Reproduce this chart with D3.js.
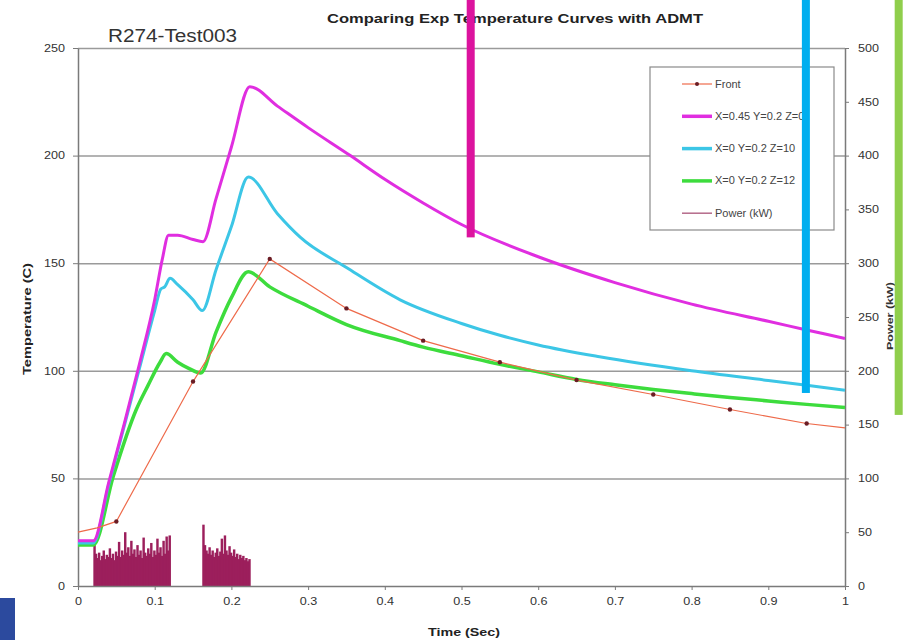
<!DOCTYPE html>
<html>
<head>
<meta charset="utf-8">
<script src="https://cdn.jsdelivr.net/npm/d3@7"></script>
<style>
  body { margin: 0; background: #fff; }
  text { font-family: "Liberation Sans", Arial, sans-serif; }
</style>
</head>
<body>
<div id="chart"></div>
<script>
// ---- data ----
const timeTicks = [0, 0.1, 0.2, 0.3, 0.4, 0.5, 0.6, 0.7, 0.8, 0.9, 1];
const timeLabels = ['0', '0.1', '0.2', '0.3', '0.4', '0.5', '0.6', '0.7', '0.8', '0.9', '1'];
const tempTicks = [0, 50, 100, 150, 200, 250];
const powerTicks = [0, 50, 100, 150, 200, 250, 300, 350, 400, 450, 500];

const frontT = [0, 0.025, 0.05, 0.15, 0.25, 0.35, 0.45, 0.55, 0.65, 0.75, 0.85, 0.95, 1.0];
const frontV = [25, 27, 30, 95, 152, 129, 114, 104, 95.7, 89, 82, 75.5, 73.5];

const magentaT = [0, 0.02, 0.04, 0.06, 0.08, 0.1, 0.11, 0.118, 0.13, 0.15, 0.163, 0.18, 0.2, 0.224, 0.26, 0.3, 0.355, 0.4, 0.45, 0.5, 0.6, 0.7, 0.8, 0.9, 0.95, 1.0];
const magentaV = [21, 21, 48, 75, 103, 133, 152, 163, 163, 161, 160, 180, 204, 232, 223, 213, 200, 189, 178, 168, 153, 141, 131, 123, 119, 115];

const cyanT = [0, 0.02, 0.04, 0.06, 0.08, 0.1, 0.108, 0.113, 0.12, 0.13, 0.15, 0.162, 0.18, 0.2, 0.222, 0.26, 0.29, 0.35, 0.42, 0.5, 0.55, 0.6, 0.68, 0.8, 0.9, 1.0];
const cyanV = [20, 20, 47, 74, 101, 128, 138, 139, 143, 140, 133, 128, 147, 167, 190, 173, 162, 148, 133, 122, 116.5, 112, 106.5, 100, 95.5, 91];

const greenT = [0, 0.02, 0.046, 0.076, 0.091, 0.107, 0.115, 0.13, 0.145, 0.16, 0.18, 0.2, 0.222, 0.25, 0.3, 0.35, 0.42, 0.45, 0.5, 0.55, 0.6, 0.65, 0.7, 0.75, 0.8, 0.85, 0.9, 0.95, 1.0];
const greenV = [19, 19, 51, 82, 93, 104, 108, 104, 101, 99, 118, 134, 146, 139, 130, 121.5, 114, 111, 107, 103, 99.5, 96, 93.5, 91.3, 89.4, 87.6, 86, 84.4, 83];

// power (kW), one value every 0.002 s
const powerStep = 0.002;
const power1Start = 0.022;
const power1 = [38, 30, 26, 31, 24, 28, 33, 25, 29, 27, 35, 26, 30, 24, 32, 28, 41, 27, 33, 29, 50, 31, 36, 28, 42,
                30, 34, 27, 38, 29, 33, 26, 45, 31, 28, 35, 30, 40, 27, 33, 29, 44, 31, 36, 28, 42, 30, 46, 33, 47];
const power2Start = 0.164;
const power2 = [57, 38, 33, 30, 36, 29, 33, 27, 31, 35, 28, 32, 44, 30, 47, 33, 29, 37, 31, 28, 34, 27, 30, 25, 29,
                26, 28, 24, 26, 23, 25];

const legendNames = ['Front', 'X=0.45 Y=0.2 Z=0', 'X=0 Y=0.2 Z=10', 'X=0 Y=0.2 Z=12', 'Power (kW)'];

// overlay marker bars drawn over the chart (time, lower end in temperature)
const overlayT = [0.512, 0.949, 1.07];
const overlayEnd = [162, 89.7, 79.5];

// ---- drawing ----
const W = 918, H = 640;
const m = { left: 78, right: 845, top: 48, bottom: 586 };

const svg = d3.select('#chart').append('svg').attr('width', W).attr('height', H);

const x = d3.scaleLinear().domain([0, 1]).range([m.left, m.right]);
const y = d3.scaleLinear().domain([0, 250]).range([m.bottom, m.top]);
const yPow = d3.scaleLinear().domain([0, 500]).range([m.bottom, m.top]);

// the reference text is drawn a little wide
const widen = k => sel => sel.each(function () {
  const len = this.getComputedTextLength();
  d3.select(this).attr('textLength', len * k).attr('lengthAdjust', 'spacingAndGlyphs');
});

// gridlines
svg.append('g')
  .attr('transform', `translate(${m.left},0)`)
  .call(d3.axisLeft(y).tickValues([50, 100, 150, 200, 250]).tickSize(-(m.right - m.left)).tickFormat(''))
  .call(g => g.select('.domain').remove())
  .call(g => g.selectAll('line').attr('stroke', '#9a9a9a').attr('stroke-width', 1.5));

// power bars
const bars = power1.map((v, i) => ({ t: power1Start + i * powerStep, v }))
  .concat(power2.map((v, i) => ({ t: power2Start + i * powerStep, v })));
svg.append('g').selectAll('rect').data(bars).join('rect')
  .attr('x', d => x(d.t - powerStep))
  .attr('width', x(powerStep) - x(0) + 0.9)
  .attr('y', d => yPow(d.v))
  .attr('height', d => yPow(0) - yPow(d.v))
  .attr('fill', '#9c1f5c');

// axes
const axisStyle = g => {
  g.select('.domain').attr('stroke', '#7a7a7a').attr('stroke-width', 1.5);
  g.selectAll('.tick line').attr('stroke', '#7a7a7a');
  g.selectAll('text').attr('fill', '#333').style('font-size', '10.5px')
    .style('font-family', '"Liberation Sans", Arial, sans-serif')
    .call(widen(1.2));
};

svg.append('g')
  .attr('transform', `translate(0,${m.bottom})`)
  .call(d3.axisBottom(x).tickValues(timeTicks).tickFormat((d, i) => timeLabels[i]).tickSize(4).tickSizeOuter(0).tickPadding(8))
  .call(axisStyle);

svg.append('g')
  .attr('transform', `translate(${m.left},0)`)
  .call(d3.axisLeft(y).tickValues(tempTicks).tickSize(5).tickSizeOuter(0).tickPadding(8))
  .call(axisStyle);

svg.append('g')
  .attr('transform', `translate(${m.right},0)`)
  .call(d3.axisRight(yPow).tickValues(powerTicks).tickSize(4).tickSizeOuter(0).tickPadding(9))
  .call(axisStyle);

// curves
const zip = (ts, vs) => ts.map((t, i) => ({ t, v: vs[i] }));
const smooth = d3.line().x(d => x(d.t)).y(d => y(d.v)).curve(d3.curveMonotoneX);
const straight = d3.line().x(d => x(d.t)).y(d => y(d.v));

const series = [
  { data: zip(greenT, greenV), color: '#3ddc3d', w: 3.5 },
  { data: zip(cyanT, cyanV), color: '#3cc6e6', w: 3 },
  { data: zip(magentaT, magentaV), color: '#e02ee0', w: 3 },
];
series.forEach(s => {
  svg.append('path').datum(s.data)
    .attr('fill', 'none').attr('stroke', s.color).attr('stroke-width', s.w)
    .attr('stroke-linejoin', 'round').attr('d', smooth);
});

const front = zip(frontT, frontV);
svg.append('path').datum(front)
  .attr('fill', 'none').attr('stroke', '#ee6a4a').attr('stroke-width', 1.2).attr('d', straight);
svg.append('g').selectAll('circle').data(front.slice(2, 12)).join('circle')
  .attr('cx', d => x(d.t)).attr('cy', d => y(d.v)).attr('r', 2.2).attr('fill', '#6a1c24');

// titles
svg.append('text').attr('x', 327).attr('y', 23)
  .attr('textLength', 376).attr('lengthAdjust', 'spacingAndGlyphs')
  .style('font-size', '13px').style('font-weight', 'bold').attr('fill', '#222')
  .text('Comparing Exp Temperature Curves with ADMT');

svg.append('text').attr('x', 108).attr('y', 42)
  .attr('textLength', 129).attr('lengthAdjust', 'spacingAndGlyphs')
  .style('font-size', '18px').attr('fill', '#333')
  .text('R274-Test003');

svg.append('text').attr('x', 428).attr('y', 636)
  .attr('textLength', 72).attr('lengthAdjust', 'spacingAndGlyphs')
  .style('font-size', '11px').style('font-weight', 'bold').attr('fill', '#222')
  .text('Time (Sec)');

svg.append('text').attr('transform', 'translate(31,375) rotate(-90)')
  .attr('textLength', 112).attr('lengthAdjust', 'spacingAndGlyphs')
  .style('font-size', '10px').style('font-weight', 'bold').attr('fill', '#222')
  .text('Temperature (C)');

svg.append('text').attr('transform', 'translate(893,350) rotate(-90)')
  .attr('textLength', 68).attr('lengthAdjust', 'spacingAndGlyphs')
  .style('font-size', '9px').style('font-weight', 'bold').attr('fill', '#333')
  .text('Power (kW)');

// legend
const lg = svg.append('g');
lg.append('rect').attr('x', 650).attr('y', 67).attr('width', 184).attr('height', 163)
  .attr('fill', '#fff').attr('stroke', '#8a8a8a').attr('stroke-width', 1.2);
const legendStyle = [
  { color: '#ee6a4a', w: 1.2 },
  { color: '#e02ee0', w: 3.5 },
  { color: '#3cc6e6', w: 3.5 },
  { color: '#3ddc3d', w: 3.5 },
  { color: '#b56a8a', w: 1.5 },
];
legendNames.forEach((name, i) => {
  const ly = 84 + i * 32.3;
  lg.append('line').attr('x1', 682).attr('x2', 712).attr('y1', ly).attr('y2', ly)
    .attr('stroke', legendStyle[i].color).attr('stroke-width', legendStyle[i].w);
  if (i === 0) lg.append('circle').attr('cx', 697).attr('cy', ly).attr('r', 2).attr('fill', '#6a1c24');
  lg.append('text').attr('x', 715).attr('y', ly + 3.5)
    .style('font-size', '10px').attr('fill', '#444').text(name)
    .call(widen(1.1));
});

// overlay bars
const overlayColors = ['#dc139e', '#00aeef', '#8fce4c'];
svg.append('g').selectAll('rect').data(overlayT).join('rect')
  .attr('x', d => x(d) - 4)
  .attr('width', 8)
  .attr('y', 0)
  .attr('height', (d, i) => y(overlayEnd[i]))
  .attr('fill', (d, i) => overlayColors[i]);

// blue block at bottom left
svg.append('rect').attr('x', 0).attr('y', 598).attr('width', 15).attr('height', 42).attr('fill', '#2c4a9e');
</script>
</body>
</html>
